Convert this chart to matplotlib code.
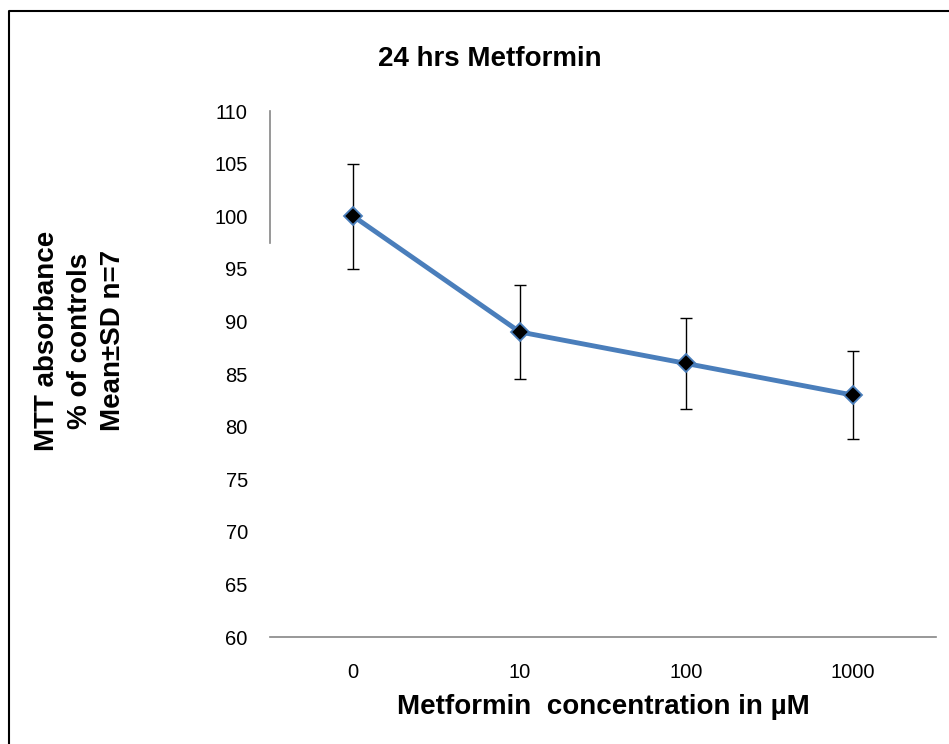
import matplotlib
matplotlib.use("Agg")
import matplotlib.pyplot as plt
from matplotlib.lines import Line2D

plt.rcParams['font.family'] = ['Liberation Sans', 'DejaVu Sans']

conc = ["0", "10", "100", "1000"]
mean = [100, 89, 86, 83]
err_up = [5, 4.5, 4.3, 4.15]
err_down = [5, 4.5, 4.3, 4.2]

fig = plt.figure(figsize=(9.49, 7.44), dpi=100)
ax = fig.add_axes([0.2845, 0.1438, 0.7018, 0.707])

x = range(len(conc))
ax.errorbar(x, mean, yerr=[err_down, err_up], fmt='none', ecolor='black',
            elinewidth=1, capsize=4, capthick=1, zorder=2)
ax.plot(x, mean, color='#4A7EBB', lw=3.5, marker='D', markersize=9.5,
        markerfacecolor='black', markeredgecolor='#4A7EBB', markeredgewidth=1.3,
        zorder=3)

ax.set_xlim(-0.5, 3.5)
ax.set_ylim(60, 110)
ax.set_yticks(range(60, 111, 5))
ax.set_xticks(list(x))
ax.set_xticklabels(conc)
ax.tick_params(length=0, labelsize=14.5)
ax.tick_params(axis='x', pad=19)
ax.tick_params(axis='y', pad=16)

for s in ['top', 'right']:
    ax.spines[s].set_visible(False)
ax.spines['left'].set_bounds(97.5, 110)
ax.spines['left'].set_color('#868686')
ax.spines['bottom'].set_color('#868686')
ax.spines['left'].set_linewidth(1.2)
ax.spines['bottom'].set_linewidth(1.2)

ax.set_xlabel("Metformin  concentration in µM", fontsize=20, fontweight='bold',
              labelpad=8)
fig.text(0.516, 0.921, "24 hrs Metformin", fontsize=20, fontweight='bold',
         ha='center', va='center')
fig.text(0.084, 0.542, "MTT absorbance\n% of controls\nMean±SD n=7", fontsize=20,
         fontweight='bold', rotation=90, ha='center', va='center', linespacing=1.35)

# frame: only left and top edges are visible in the source image
fig.lines.append(Line2D([0.0095, 0.0095, 1.0], [0.0, 0.985, 0.985],
                        transform=fig.transFigure, color='black', lw=1.5))

fig.savefig("out.png", dpi=100)
